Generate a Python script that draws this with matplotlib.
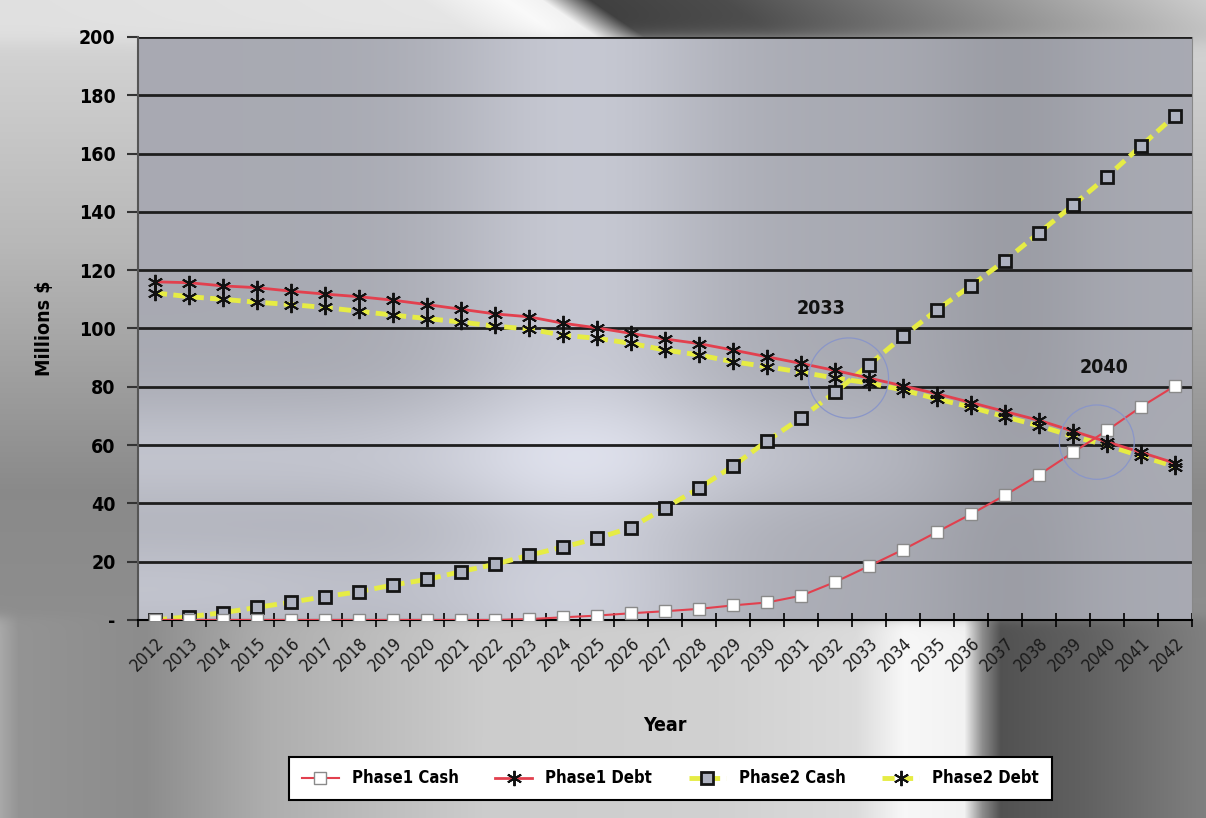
import numpy as np
import matplotlib
matplotlib.use("Agg")
import matplotlib.pyplot as plt
from matplotlib.patches import Ellipse

plt.rcParams['font.family'] = ['DejaVu Sans']
plt.rcParams['font.stretch'] = 'condensed'

# data (millions $)
years = list(range(2012, 2043))
p1_cash = [0, 0, 0, 0, 0, 0, 0, 0, 0, 0, 0,
           0.3, 0.9, 1.5, 2.3, 3.0, 3.8, 5.0, 6.0, 8.3, 13.0, 18.5,
           24.1, 30.2, 36.3, 42.8, 49.8, 57.5, 65.0, 73.1, 80.3]
p1_debt = [116.0, 115.7, 114.6, 114.0, 112.8, 111.8, 110.9, 109.7, 108.2, 106.6, 105.0,
           104.0, 101.8, 100.2, 98.3, 96.4, 94.8, 92.6, 90.3, 88.0, 85.6, 83.0,
           80.3, 77.6, 74.6, 71.5, 68.5, 64.8, 61.1, 57.5, 53.8]
p2_cash = [0, 1.1, 2.5, 4.3, 6.1, 8.0, 9.7, 12.0, 13.9, 16.6, 19.1,
           22.2, 25.0, 28.0, 31.7, 38.4, 45.2, 52.8, 61.4, 69.3, 78.1, 87.5,
           97.3, 106.4, 114.7, 123.3, 132.8, 142.3, 152.1, 162.6, 173.0]
p2_debt = [112.2, 110.9, 110.0, 109.0, 108.2, 107.2, 105.9, 104.6, 103.4, 102.2, 100.8,
           99.8, 97.7, 96.6, 94.9, 92.6, 90.9, 88.6, 86.9, 85.0, 83.0, 81.3,
           78.9, 75.8, 73.0, 69.7, 66.6, 63.0, 59.9, 56.2, 52.6]
yticks = [0, 20, 40, 60, 80, 100, 120, 140, 160, 180, 200]
ytick_labels = ['-', '20', '40', '60', '80', '100', '120', '140', '160', '180', '200']


def sig(t):
    return 1 / (1 + np.exp(-t))


fig = plt.figure(figsize=(12.06, 8.18), dpi=100)

# metallic figure background
H, W = 818, 1206
xx, yy = np.meshgrid(np.linspace(0, 1, W), np.linspace(0, 1, H))
left_prof = np.interp(yy, [0, 0.3, 0.6, 0.8, 1.0], [0.85, 0.72, 0.54, 0.56, 0.6])
bot_prof = np.interp(xx, [0, 0.015, 0.12, 0.22, 0.4, 0.6, 0.71, 0.75, 0.8, 0.815, 0.83, 0.9, 1.0],
                     [0.66, 0.58, 0.55, 0.68, 0.8, 0.82, 0.86, 0.97, 0.95, 0.55, 0.32, 0.38, 0.5])
top_prof = np.interp(xx - 1.0 * yy, [0, 0.35, 0.42, 0.45, 0.49, 0.6, 0.8, 1.0],
                     [0.88, 0.9, 0.98, 0.95, 0.25, 0.3, 0.55, 0.8])
w_b = sig((yy - 0.755) / 0.004)
w_t = sig((0.05 - yy) / 0.006)
g = left_prof * (1 - w_b) + bot_prof * w_b
g = g * (1 - w_t) + top_prof * w_t
g = np.clip(g, 0, 1)
bg = np.dstack([g, g, g])
ax_bg = fig.add_axes([0, 0, 1, 1], zorder=-10)
ax_bg.imshow(bg, aspect='auto', extent=[0, 1, 0, 1], origin='upper')
ax_bg.axis('off')

ax = fig.add_axes([0.1144, 0.2421, 0.874, 0.7127])
x = np.arange(len(years))

# plot area gradient
h2, w2 = 300, 500
px, py = np.meshgrid(np.linspace(0, 1, w2), np.linspace(0, 1, h2))
v = 0.68 + 0.12 * np.exp(-((px - 0.42) / 0.13) ** 2)
v += 0.1 * np.exp(-((py - 0.72) / 0.1) ** 2) * sig((0.7 - px) / 0.08)
v += 0.1 * np.exp(-((py - 0.95) / 0.1) ** 2) * np.exp(-(px / 0.4) ** 2)
v -= 0.05 * np.exp(-((px - 0.83) / 0.08) ** 2)
v = np.clip(v, 0, 1)
area = np.clip(np.dstack([v * 0.97, v * 0.98, v * 1.03]), 0, 1)
ax.imshow(area, aspect='auto', extent=[-0.5, len(years) - 0.5, 0, 200],
          origin='upper', zorder=0)

ax.set_xlim(-0.5, len(years) - 0.5)
ax.set_ylim(0, 200)
for t in yticks[1:]:
    ax.axhline(t, color='#1e1e1e', lw=2, zorder=1)

ax.plot(x, p1_cash, color='#e2404e', lw=1.5, marker='s', ms=8.5,
        mfc='white', mec='#8a8a8a', mew=1, label='Phase1 Cash', zorder=4)
ax.plot(x, p1_debt, color='#e2404e', lw=2, marker=(6, 2, 0), ms=11,
        mec='#111111', mew=1.4, label='Phase1 Debt', zorder=4)
ax.plot(x, p2_cash, color='#e6ec44', lw=3.5, dashes=(2.5, 1.3), marker='s', ms=8.5,
        mfc='#aeb2c0', mec='#151515', mew=2, label='Phase2 Cash', zorder=3)
ax.plot(x, p2_debt, color='#e6ec44', lw=3.5, dashes=(2.5, 1.3), marker=(6, 2, 0), ms=11,
        mec='#111111', mew=1.4, label='Phase2 Debt', zorder=3)

# highlighted crossing points
ax.add_patch(Ellipse((20.4, 83), 2.35, 27.5, fill=False, ec='#8a96c8',
                     lw=0.9, zorder=5))
ax.add_patch(Ellipse((27.7, 61), 2.2, 25.5, fill=False, ec='#8a96c8',
                     lw=0.9, zorder=5))
ax.text(19.6, 107, '2033', fontsize=14, fontweight='bold', color='#111111',
        ha='center', va='center', zorder=6)
ax.text(27.9, 86.5, '2040', fontsize=14, fontweight='bold', color='#111111',
        ha='center', va='center', zorder=6)

ax.set_yticks(yticks)
ax.set_yticklabels(ytick_labels, fontsize=14, fontweight='bold')
ax.set_xticks(x)
ax.set_xticklabels([str(y) for y in years], rotation=45, ha='right',
                   rotation_mode='anchor', fontsize=12.5, color='#1a1a1a')
ax.set_xticks(np.arange(-0.5, len(years)), minor=True)
ax.tick_params(axis='x', which='major', length=0, pad=10)
ax.tick_params(axis='x', which='minor', length=10, direction='inout',
               width=1.2, color='black')
ax.tick_params(axis='y', length=8, width=1.5, color='#333333', pad=8)

ax.spines['top'].set_visible(False)
ax.spines['right'].set_color('#888888')
ax.spines['left'].set_color('#555555')
ax.spines['left'].set_linewidth(1.5)
ax.spines['bottom'].set_color('black')
ax.spines['bottom'].set_linewidth(1.5)

ax.set_xlabel('Year', fontsize=14, fontweight='bold', labelpad=30)
ax.set_ylabel('Millions $', fontsize=14, fontweight='bold', labelpad=18)

leg = fig.legend(loc='upper center', bbox_to_anchor=(0.556, 0.0746), ncol=4,
                 frameon=True, fancybox=False, edgecolor='black',
                 prop={'weight': 'bold', 'size': 12}, handlelength=2.2,
                 columnspacing=2.2, borderpad=0.75, borderaxespad=0)
leg.get_frame().set_facecolor('white')
leg.get_frame().set_linewidth(1.5)
leg.get_frame().set_alpha(1)

fig.savefig('out.png', dpi=100)
